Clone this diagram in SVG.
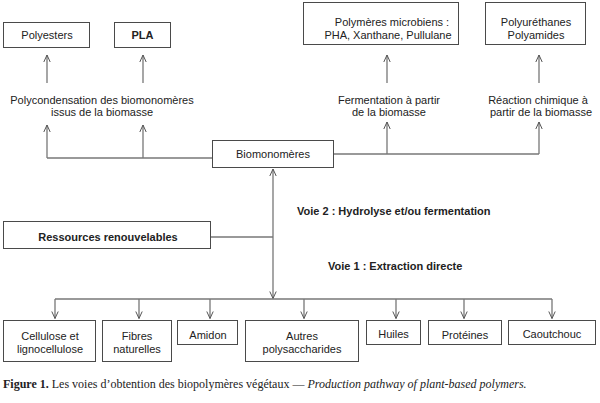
<svg xmlns="http://www.w3.org/2000/svg" width="600" height="403" viewBox="0 0 600 403">
<defs>
<style>
.box{fill:#fff;stroke:#4a4a4a;stroke-width:1}
.t{font-family:"Liberation Sans",Arial,sans-serif;font-size:11px;fill:#222;text-anchor:middle}
.b{font-weight:bold}
.ln{fill:none;stroke:#777;stroke-width:1.3}
.cap{font-family:"Liberation Serif","Times New Roman",serif;font-size:12px;fill:#222}
</style>
<marker id="ah" viewBox="-8 -4 9 8" refX="0" refY="0" markerWidth="9" markerHeight="8" markerUnits="userSpaceOnUse" orient="auto">
<path d="M-7,-3.2 L0,0 L-7,3.2" fill="none" stroke="#555" stroke-width="1"/>
</marker>
</defs>
<rect width="600" height="403" fill="#fff"/>

<g id="connectors">
<line class="ln" x1="47" y1="83" x2="47" y2="55" marker-end="url(#ah)"/>
<line class="ln" x1="143" y1="83" x2="143" y2="55" marker-end="url(#ah)"/>
<line class="ln" x1="387" y1="83" x2="387" y2="55" marker-end="url(#ah)"/>
<line class="ln" x1="539" y1="83" x2="539" y2="55" marker-end="url(#ah)"/>
<polyline class="ln" points="212,158 47,158"/>
<line class="ln" x1="47" y1="158" x2="47" y2="125" marker-end="url(#ah)"/>
<line class="ln" x1="143" y1="158" x2="143" y2="125" marker-end="url(#ah)"/>
<polyline class="ln" points="334,154 539,154"/>
<line class="ln" x1="387" y1="154" x2="387" y2="122" marker-end="url(#ah)"/>
<line class="ln" x1="539" y1="154" x2="539" y2="122" marker-end="url(#ah)"/>
<line class="ln" x1="211" y1="237" x2="273" y2="237"/>
<line class="ln" x1="273" y1="237" x2="273" y2="169" marker-end="url(#ah)"/>
<line class="ln" x1="273" y1="237" x2="273" y2="298.5" marker-end="url(#ah)"/>
<line class="ln" x1="55" y1="299" x2="552" y2="299"/>
<line class="ln" x1="55" y1="299" x2="55" y2="318.5" marker-end="url(#ah)"/>
<line class="ln" x1="139" y1="299" x2="139" y2="318.5" marker-end="url(#ah)"/>
<line class="ln" x1="210" y1="299" x2="210" y2="318.5" marker-end="url(#ah)"/>
<line class="ln" x1="304" y1="299" x2="304" y2="318.5" marker-end="url(#ah)"/>
<line class="ln" x1="396" y1="299" x2="396" y2="318.5" marker-end="url(#ah)"/>
<line class="ln" x1="464" y1="299" x2="464" y2="318.5" marker-end="url(#ah)"/>
<line class="ln" x1="552" y1="299" x2="552" y2="318.5" marker-end="url(#ah)"/>
</g>

<g id="polyesters"><rect class="box" x="3.5" y="22.5" width="86" height="25"/><text class="t" x="47" y="39">Polyesters</text></g>
<g id="pla"><rect class="box" x="114.5" y="22.5" width="56" height="25"/><text class="t b" x="142.5" y="39">PLA</text></g>
<g id="polymeres-microbiens"><rect class="box" x="303.5" y="2.5" width="155" height="42"/><text class="t" x="392" y="26">Polymères microbiens :</text><text class="t" x="388" y="39">PHA, Xanthane, Pullulane</text></g>
<g id="polyurethanes"><rect class="box" x="485.5" y="2.5" width="100" height="42"/><text class="t" x="536" y="26">Polyuréthanes</text><text class="t" x="536" y="39">Polyamides</text></g>

<g id="polycondensation"><text class="t" x="102" y="104">Polycondensation des biomonomères</text><text class="t" x="102" y="116">issus de la biomasse</text></g>
<g id="fermentation"><text class="t" x="389" y="104">Fermentation à partir</text><text class="t" x="389" y="116">de la biomasse</text></g>
<g id="reaction"><text class="t" x="538" y="104">Réaction chimique à</text><text class="t" x="541" y="116">partir de la biomasse</text></g>

<g id="biomonomeres"><rect class="box" x="212.5" y="140.5" width="121" height="27"/><text class="t" x="273" y="158">Biomonomères</text></g>
<g id="ressources"><rect class="box" x="3.5" y="221.5" width="207" height="27"/><text class="t b" x="108" y="241">Ressources renouvelables</text></g>

<g id="voie2"><text class="t b" x="297" y="215" style="text-anchor:start">Voie 2 : Hydrolyse et/ou fermentation</text></g>
<g id="voie1"><text class="t b" x="328" y="270" style="text-anchor:start">Voie 1 : Extraction directe</text></g>

<g id="cellulose"><rect class="box" x="3.5" y="320.5" width="92" height="41"/><text class="t" x="50" y="340">Cellulose et</text><text class="t" x="50" y="353">lignocellulose</text></g>
<g id="fibres"><rect class="box" x="102.5" y="320.5" width="69" height="41"/><text class="t" x="137" y="340">Fibres</text><text class="t" x="137" y="353">naturelles</text></g>
<g id="amidon"><rect class="box" x="177.5" y="320.5" width="60" height="24"/><text class="t" x="208" y="339">Amidon</text></g>
<g id="autres"><rect class="box" x="245.5" y="320.5" width="113" height="41"/><text class="t" x="302" y="340">Autres</text><text class="t" x="302" y="353">polysaccharides</text></g>
<g id="huiles"><rect class="box" x="366.5" y="320.5" width="54" height="24"/><text class="t" x="393.5" y="338">Huiles</text></g>
<g id="proteines"><rect class="box" x="428.5" y="320.5" width="73" height="24"/><text class="t" x="465" y="339">Protéines</text></g>
<g id="caoutchouc"><rect class="box" x="508.5" y="320.5" width="87" height="24"/><text class="t" x="552" y="338">Caoutchouc</text></g>

<text class="cap" x="3" y="388"><tspan font-weight="bold">Figure 1.</tspan> Les voies d’obtention des biopolymères végétaux — <tspan font-style="italic">Production pathway of plant-based polymers.</tspan></text>
</svg>
